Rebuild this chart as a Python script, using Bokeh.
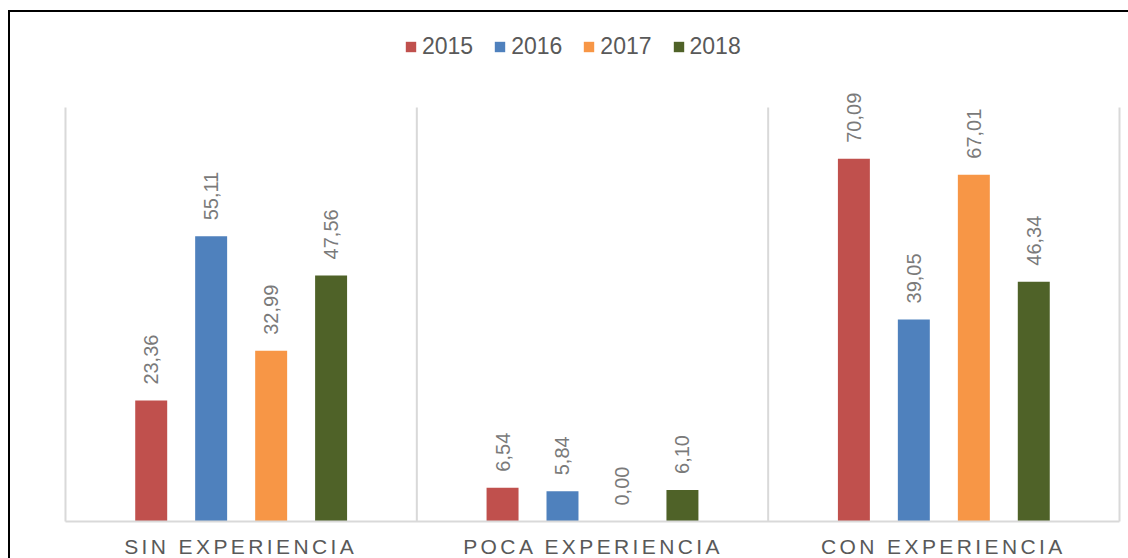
import numpy as np
from bokeh.plotting import figure
from bokeh.layouts import column
from bokeh.models import Range1d, ColumnDataSource, Legend, LegendItem
from bokeh.core.properties import value
from bokeh.embed import file_html
from bokeh.resources import INLINE

# ---- data ----
categories = ["SIN EXPERIENCIA", "POCA EXPERIENCIA", "CON EXPERIENCIA"]
years = ["2015", "2016", "2017", "2018"]
v2015 = [23.36, 6.54, 70.09]
v2016 = [55.11, 5.84, 39.05]
v2017 = [32.99, 0.00, 67.01]
v2018 = [47.56, 6.10, 46.34]
series = [v2015, v2016, v2017, v2018]
colors = ["#C0504D", "#4F81BD", "#F79646", "#4F6228"]
y_max = 80

FONT = "Liberation Sans"

x_rng = Range1d(-0.1565, 3.0256)

p = figure(width=1118, height=522, output_backend="svg", toolbar_location=None,
           x_range=x_rng, y_range=Range1d(-2.51, 98.36),
           x_axis_location=None, y_axis_location=None, min_border=0)
p.grid.visible = False
p.outline_line_color = None
p.background_fill_color = "white"
p.border_fill_color = "white"

n_cat = len(categories)
centers = np.arange(n_cat) + 0.5
offsets = [-0.256, -0.0854, 0.0854, 0.256]
bar_w = 0.091

# separators
bounds = np.arange(n_cat + 1)
p.segment(x0=bounds, y0=0, x1=bounds, y1=y_max, line_color="#D9D9D9", line_width=2)

items = []
for yr, vals, col, off in zip(years, series, colors, offsets):
    src = ColumnDataSource(dict(x=centers + off, top=vals,
                                lab=[f"{v:.2f}".replace(".", ",") for v in vals]))
    r = p.vbar(x="x", top="top", bottom=0, width=bar_w, source=src,
               fill_color=col, line_color=None)
    items.append(LegendItem(label=yr, renderers=[r]))
    p.text(x="x", y="top", text="lab", source=src, angle=np.pi / 2,
           text_align="left", text_baseline="middle", y_offset=-16,
           text_font=value(FONT), text_font_size="20px", text_color="#7A7A7A")

# baseline
p.segment(x0=[0], y0=[0], x1=[n_cat], y1=[0], line_color="#D9D9D9", line_width=2)

legend = Legend(items=items, orientation="horizontal", location=(394, 474),
                label_text_font=FONT, label_text_font_size="23px",
                label_text_color="#595959", glyph_width=13, glyph_height=13,
                label_standoff=5, spacing=20, padding=0, margin=0,
                border_line_color=None, background_fill_alpha=0)
p.add_layout(legend)

# category label strip (letter-spaced)
q = figure(width=1118, height=24, output_backend="svg", toolbar_location=None,
           x_range=x_rng, y_range=Range1d(0, 1),
           x_axis_location=None, y_axis_location=None, min_border=0)
q.grid.visible = False
q.outline_line_color = None
q.background_fill_color = "white"
q.border_fill_color = "white"
q.styles = {"letter-spacing": "3.4px"}
q.text(x=centers, y=[1] * n_cat, text=categories, text_align="center",
       text_baseline="top", x_offset=-26, text_font=value(FONT),
       text_font_size="21px", text_color="#595959")

layout = column(p, q, spacing=0,
                styles={"border-left": "2px solid #000000", "border-top": "2px solid #000000",
                        "margin-left": "8px", "margin-top": "10px"})

open("out.html", "w").write(file_html(layout, INLINE))
